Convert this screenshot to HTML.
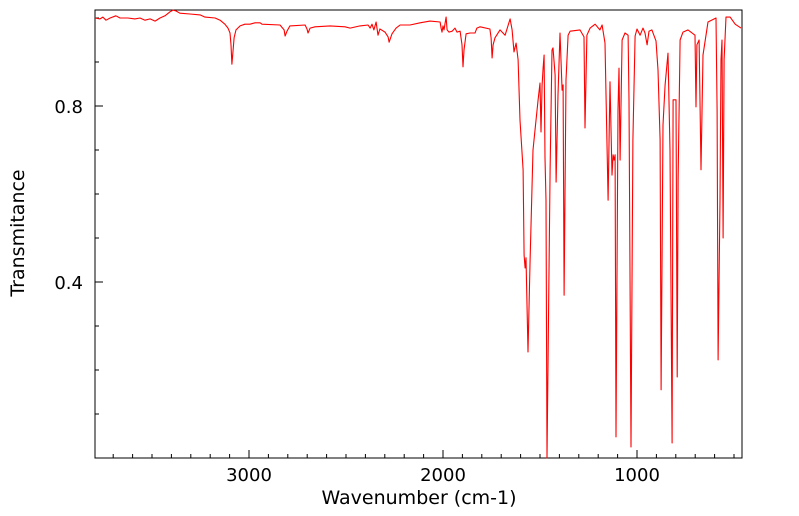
<!DOCTYPE html>
<html><head><meta charset="utf-8"><style>
html,body{margin:0;padding:0;background:#fff;}
svg{display:block;font-family:"DejaVu Sans","Liberation Sans",sans-serif;}
</style></head><body>
<svg id="chart" width="799" height="516"></svg>
<script>
const wavenumbers=[3794,3768,3753,3737,3716,3686,3665,3624,3588,3562,3536,3510,3484,3459,3433,3407,3392,3376,3356,3304,3252,3227,3175,3149,3124,3108,3098,3093,3088,3082,3077,3067,3046,3021,2995,2969,2943,2933,2840,2819,2814,2804,2789,2711,2701,2696,2685,2660,2582,2505,2479,2428,2386,2376,2366,2356,2345,2335,2325,2299,2283,2278,2263,2242,2221,2170,2118,2067,2015,2010,2005,2000,1995,1984,1979,1969,1953,1938,1928,1912,1902,1897,1892,1881,1861,1835,1825,1809,1758,1752,1747,1742,1732,1706,1680,1654,1644,1634,1623,1613,1603,1587,1582,1577,1572,1562,1551,1536,1526,1510,1500,1495,1489,1484,1479,1474,1469,1464,1448,1438,1433,1422,1417,1407,1397,1386,1381,1376,1366,1355,1345,1294,1273,1268,1258,1242,1216,1191,1180,1165,1149,1139,1129,1123,1118,1113,1108,1098,1093,1087,1077,1062,1046,1041,1031,1021,1010,1000,984,969,959,948,938,923,902,892,881,876,866,855,840,830,819,814,799,793,788,778,763,737,701,696,691,680,670,660,634,593,587,582,572,567,562,556,551,541,520,494,464];
const transmittance=[1.000,.998,1.002,.995,1.000,1.005,1.000,1.000,.998,1.000,.995,.998,.993,1.000,1.005,1.014,1.018,1.016,1.011,1.009,1.007,1.002,1.000,.995,.986,.977,.966,.939,.895,.927,.955,.973,.982,.986,.986,.989,.989,.986,.984,.973,.959,.970,.982,.984,.975,.966,.977,.980,.982,.980,.977,.982,.984,.977,.986,.973,.991,.961,.975,.968,.957,.945,.964,.977,.984,.984,.989,.993,.991,.977,.968,.982,.973,1.002,.973,.968,.970,.977,.968,.970,.939,.889,.927,.964,.966,.966,.977,.980,.975,.955,.909,.939,.955,.973,.961,.998,.973,.923,.943,.905,.768,.655,.461,.432,.455,.241,.450,.700,.745,.814,.852,.741,.848,.886,.916,.682,.586,0.0,.655,.927,.932,.871,.627,.825,.966,.836,.848,.370,.859,.961,.970,.973,.957,.750,.961,.977,.986,.973,.984,.943,.586,.855,.643,.689,.677,.689,.048,.791,.886,.677,.950,.966,.961,.814,.025,.723,.959,.975,.961,.977,.966,.939,.970,.973,.948,.882,.723,.155,.757,.848,.920,.700,.034,.814,.814,.184,.632,.950,.968,.973,.961,.798,.939,.950,.655,.916,.991,1.000,.791,.223,.586,.905,.950,.500,.905,1.002,1.002,.986,.977];
const xMajorTicks=[3000,2000,1000];
const xMajorLabels=["3000","2000","1000"];
const yMajorTicks=[0.8,0.4];
const yMajorLabels=["0.8","0.4"];

const NS="http://www.w3.org/2000/svg";
const svg=document.getElementById('chart');
const L=95,R=742,T=10,B=458;
const X=w=>637+(1000-w)*0.194;
const Y=t=>458-t*440;
function mk(tag,a){const e=document.createElementNS(NS,tag);for(const k in a)e.setAttribute(k,a[k]);svg.appendChild(e);return e;}

const frame=mk('rect',{x:L,y:T,width:R-L,height:B-T,fill:'none',stroke:'#000','stroke-width':1});



for(let w=500;w<=3700;w+=100){
  const maj=xMajorTicks.includes(w);
  const t=mk('line',{x1:X(w),x2:X(w),y1:B,y2:B-(maj?8:4),stroke:'#000','stroke-width':1});
  
  
}
xMajorTicks.forEach((w,i)=>{
  const tx=mk('text',{x:X(w),y:B+23,'text-anchor':'middle','font-size':18,fill:'#000'});
  tx.textContent=xMajorLabels[i];
  
  
});
for(let k=1;k<=10;k++){
  const v=k/10;const maj=yMajorTicks.some(m=>Math.abs(m-v)<1e-6);
  const t=mk('line',{x1:L,x2:L+(maj?8:4),y1:Y(v),y2:Y(v),stroke:'#000','stroke-width':1});
  
  
}
yMajorTicks.forEach((v,i)=>{
  const tx=mk('text',{x:L-12,y:Y(v)+7,'text-anchor':'end','font-size':18,fill:'#000'});
  tx.textContent=yMajorLabels[i];
  
  
});

let d='';
wavenumbers.forEach((w,i)=>{d+=(i?'L':'M')+X(w).toFixed(1)+','+Y(transmittance[i]).toFixed(1);});
const p=mk('path',{d:d,fill:'none',stroke:'#ff0000','stroke-width':1.1,'stroke-linejoin':'round'});



const xt=mk('text',{x:419,y:504,'text-anchor':'middle','font-size':19,fill:'#000'});
xt.textContent='Wavenumber (cm-1)';


const yt=mk('text',{x:24,y:233,'text-anchor':'middle','font-size':19,fill:'#000',transform:'rotate(-90 24 233)'});
yt.textContent='Transmitance';


</script>
</body></html>
